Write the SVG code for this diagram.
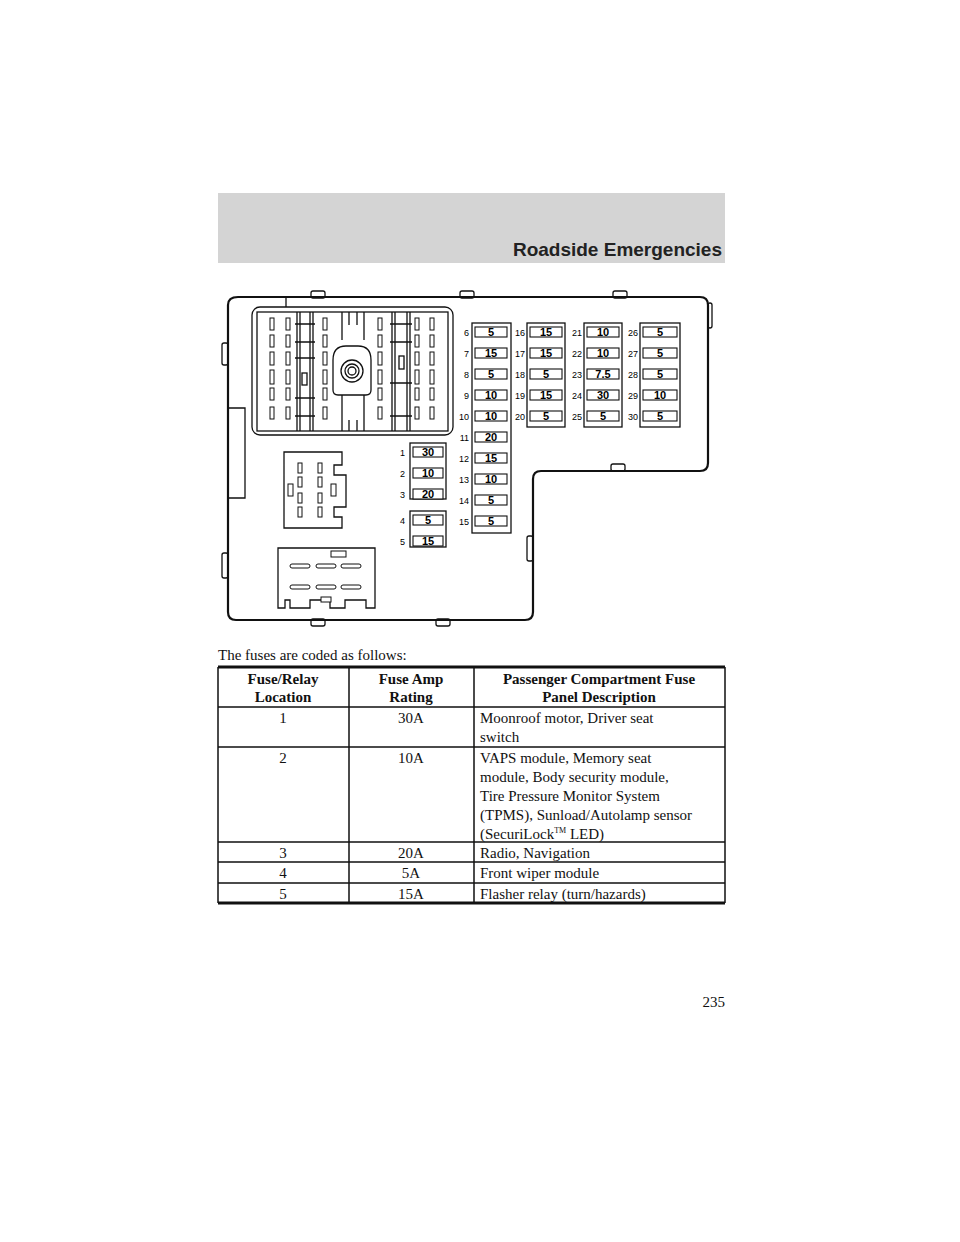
<svg xmlns="http://www.w3.org/2000/svg" width="960" height="1242" viewBox="0 0 960 1242">
<style>
.ln{fill:none;stroke:#111;stroke-width:1.3}
.thk{fill:none;stroke:#111;stroke-width:2.2}
.fw{fill:#fff;stroke:#111;stroke-width:1.1}
.fn{font-family:"Liberation Sans",Arial,sans-serif;font-size:11px;font-weight:bold;text-anchor:middle}
.fl{font-family:"Liberation Sans",Arial,sans-serif;font-size:9px;text-anchor:end}
.sr{font-family:"Liberation Serif","Times New Roman",serif;font-size:15px;fill:#111}
.b{font-weight:bold}
.c{text-anchor:middle}
.pin{fill:#fff;stroke:#111;stroke-width:1}
</style>
<rect width="960" height="1242" fill="#fff"/>
<g id="header">
<rect x="218" y="193" width="507" height="70" fill="#d4d4d4"/>
<text x="722" y="256" font-family="Liberation Sans,Arial,sans-serif" font-size="19" font-weight="bold" text-anchor="end" fill="#222">Roadside Emergencies</text>
</g>
<g id="panel">
<path class="thk" d="M238,297 H700 Q708,297 708,305 V463 Q708,471 700,471 H541 Q533,471 533,479 V612 Q533,620 525,620 H236 Q228,620 228,612 V305 Q228,297 238,297 Z"/>
<path class="ln" d="M286,297 V307 M228,408 H245 V498 H228"/>
<g class="ln"><rect x="311" y="291" width="14" height="7" rx="2"/><rect x="460" y="291" width="14" height="7" rx="2"/><rect x="613" y="291" width="14" height="7" rx="2"/><rect x="611" y="464" width="14" height="7" rx="2"/><rect x="311" y="619" width="14" height="7" rx="2"/><rect x="436" y="619" width="14" height="7" rx="2"/><rect x="222" y="343" width="6" height="22" rx="2"/><rect x="222" y="553" width="6" height="25" rx="2"/><rect x="527" y="536" width="6" height="25" rx="2"/><rect x="708" y="303" width="4" height="25" rx="2"/></g>
<rect class="ln" x="252" y="307" width="201" height="128" rx="8"/>
<rect class="ln" x="257" y="312" width="191" height="119"/>
<g class="ln"><path d="M297,312V431M300,312V431M310,312V431M313,312V431M392,312V431M395,312V431M407,312V431M410,312V431"/><path d="M295,324H315M295,342H315M295,358H315M295,398H315M295,416H315M390,324H412M390,342H412M390,383H412M390,416H412"/><path d="M342,312V340M364,312V340M342,395V431M364,395V431M349,312V325M357,312V325M349,420V431M357,420V431"/><path d="M333,360 Q333,346 346,346 H358 Q371,346 371,360 V390 Q371,395 366,395 H338 Q333,395 333,390 Z"/><circle cx="352" cy="371" r="11"/><circle cx="352" cy="371" r="7"/><circle cx="352" cy="371" r="4"/><rect x="302" y="373" width="5" height="12"/><rect x="399" y="356" width="5" height="13"/></g>
<g id="slots" class="pin">
<rect x="270" y="318" width="4" height="12"/><rect x="286" y="318" width="4" height="12"/><rect x="323" y="318" width="4" height="12"/><rect x="378" y="318" width="4" height="12"/><rect x="415" y="318" width="4" height="12"/><rect x="430" y="318" width="4" height="12"/>
<rect x="270" y="335" width="4" height="12"/><rect x="286" y="335" width="4" height="12"/><rect x="323" y="335" width="4" height="12"/><rect x="378" y="335" width="4" height="12"/><rect x="415" y="335" width="4" height="12"/><rect x="430" y="335" width="4" height="12"/>
<rect x="270" y="352" width="4" height="13"/><rect x="286" y="352" width="4" height="13"/><rect x="323" y="352" width="4" height="13"/><rect x="378" y="352" width="4" height="13"/><rect x="415" y="352" width="4" height="13"/><rect x="430" y="352" width="4" height="13"/>
<rect x="270" y="370" width="4" height="14"/><rect x="286" y="370" width="4" height="14"/><rect x="323" y="370" width="4" height="14"/><rect x="378" y="370" width="4" height="14"/><rect x="415" y="370" width="4" height="14"/><rect x="430" y="370" width="4" height="14"/>
<rect x="270" y="388" width="4" height="12"/><rect x="286" y="388" width="4" height="12"/><rect x="323" y="388" width="4" height="12"/><rect x="378" y="388" width="4" height="12"/><rect x="415" y="388" width="4" height="12"/><rect x="430" y="388" width="4" height="12"/>
<rect x="270" y="407" width="4" height="12"/><rect x="286" y="407" width="4" height="12"/><rect x="323" y="407" width="4" height="12"/><rect x="378" y="407" width="4" height="12"/><rect x="415" y="407" width="4" height="12"/><rect x="430" y="407" width="4" height="12"/>
</g>
<path class="ln" d="M284,452 H342 V465 H334 V475 H346 V507 H334 V517 H342 V528 H284 Z"/>
<g class="pin"><rect x="298" y="463" width="4" height="10"/><rect x="318" y="463" width="4" height="10"/><rect x="298" y="477" width="4" height="10"/><rect x="318" y="477" width="4" height="10"/><rect x="298" y="493" width="4" height="10"/><rect x="318" y="493" width="4" height="10"/><rect x="298" y="507" width="4" height="10"/><rect x="318" y="507" width="4" height="10"/><rect x="288" y="484" width="5" height="12"/><rect x="331" y="484" width="5" height="12"/></g>
<path class="ln" d="M278,548 H375 V608 H366 V600 H345 V608 H330 V600 H310 V608 H290 V600 H285 V608 H278 Z"/>
<g class="pin"><rect x="331" y="551" width="15" height="6"/><rect x="290" y="564" width="20" height="4" rx="2"/><rect x="316" y="564" width="20" height="4" rx="2"/><rect x="341" y="564" width="20" height="4" rx="2"/><rect x="290" y="585" width="20" height="4" rx="2"/><rect x="316" y="585" width="20" height="4" rx="2"/><rect x="341" y="585" width="20" height="4" rx="2"/><rect x="321" y="597" width="10" height="5"/></g>
</g>
<g id="fuses">
<rect class="ln" x="410" y="443" width="36" height="56"/><rect class="ln" x="410" y="511" width="36" height="36"/>
<rect class="ln" x="472" y="323" width="39" height="210"/>
<rect class="ln" x="527" y="323" width="38" height="104"/>
<rect class="ln" x="584" y="323" width="38" height="104"/>
<rect class="ln" x="640" y="323" width="40" height="104"/>
<g class="fw">
<rect x="413" y="447" width="30" height="10"/><rect x="413" y="468" width="30" height="10"/><rect x="413" y="489" width="30" height="10"/><rect x="413" y="515" width="30" height="10"/><rect x="413" y="536" width="30" height="10"/>
<rect x="475" y="327" width="32" height="10"/><rect x="475" y="348" width="32" height="10"/><rect x="475" y="369" width="32" height="10"/><rect x="475" y="390" width="32" height="10"/><rect x="475" y="411" width="32" height="10"/><rect x="475" y="432" width="32" height="10"/><rect x="475" y="453" width="32" height="10"/><rect x="475" y="474" width="32" height="10"/><rect x="475" y="495" width="32" height="10"/><rect x="475" y="516" width="32" height="10"/>
<rect x="530" y="327" width="32" height="10"/><rect x="530" y="348" width="32" height="10"/><rect x="530" y="369" width="32" height="10"/><rect x="530" y="390" width="32" height="10"/><rect x="530" y="411" width="32" height="10"/>
<rect x="587" y="327" width="32" height="10"/><rect x="587" y="348" width="32" height="10"/><rect x="587" y="369" width="32" height="10"/><rect x="587" y="390" width="32" height="10"/><rect x="587" y="411" width="32" height="10"/>
<rect x="643" y="327" width="34" height="10"/><rect x="643" y="348" width="34" height="10"/><rect x="643" y="369" width="34" height="10"/><rect x="643" y="390" width="34" height="10"/><rect x="643" y="411" width="34" height="10"/>
</g>
<g class="fn">
<text x="428" y="456">30</text><text x="428" y="477">10</text><text x="428" y="498">20</text><text x="428" y="524">5</text><text x="428" y="545">15</text>
<text x="491" y="336">5</text><text x="491" y="357">15</text><text x="491" y="378">5</text><text x="491" y="399">10</text><text x="491" y="420">10</text><text x="491" y="441">20</text><text x="491" y="462">15</text><text x="491" y="483">10</text><text x="491" y="504">5</text><text x="491" y="525">5</text>
<text x="546" y="336">15</text><text x="546" y="357">15</text><text x="546" y="378">5</text><text x="546" y="399">15</text><text x="546" y="420">5</text>
<text x="603" y="336">10</text><text x="603" y="357">10</text><text x="603" y="378">7.5</text><text x="603" y="399">30</text><text x="603" y="420">5</text>
<text x="660" y="336">5</text><text x="660" y="357">5</text><text x="660" y="378">5</text><text x="660" y="399">10</text><text x="660" y="420">5</text>
</g>
<g class="fl">
<text x="405" y="456">1</text><text x="405" y="477">2</text><text x="405" y="498">3</text><text x="405" y="524">4</text><text x="405" y="545">5</text>
<text x="469" y="336">6</text><text x="469" y="357">7</text><text x="469" y="378">8</text><text x="469" y="399">9</text><text x="469" y="420">10</text><text x="469" y="441">11</text><text x="469" y="462">12</text><text x="469" y="483">13</text><text x="469" y="504">14</text><text x="469" y="525">15</text>
<text x="525" y="336">16</text><text x="525" y="357">17</text><text x="525" y="378">18</text><text x="525" y="399">19</text><text x="525" y="420">20</text>
<text x="582" y="336">21</text><text x="582" y="357">22</text><text x="582" y="378">23</text><text x="582" y="399">24</text><text x="582" y="420">25</text>
<text x="638" y="336">26</text><text x="638" y="357">27</text><text x="638" y="378">28</text><text x="638" y="399">29</text><text x="638" y="420">30</text>
</g>
</g>
<text class="sr" x="218" y="660">The fuses are coded as follows:</text>
<g id="table">
<path fill="none" stroke="#111" stroke-width="1.5" d="M218,707H725M218,747H725M218,842H725M218,862H725M218,883H725M218,667V903M349,667V903M474,667V903M725,667V903"/>
<path stroke="#111" stroke-width="3" d="M218,667H725M218,903H725"/>
<g class="sr b c"><text x="283" y="684">Fuse/Relay</text><text x="283" y="702">Location</text><text x="411" y="684">Fuse Amp</text><text x="411" y="702">Rating</text><text x="599" y="684">Passenger Compartment Fuse</text><text x="599" y="702">Panel Description</text></g>
<g class="sr c"><text x="283" y="723">1</text><text x="411" y="723">30A</text><text x="283" y="763">2</text><text x="411" y="763">10A</text><text x="283" y="858">3</text><text x="411" y="858">20A</text><text x="283" y="878">4</text><text x="411" y="878">5A</text><text x="283" y="899">5</text><text x="411" y="899">15A</text></g>
<g class="sr"><text x="480" y="723">Moonroof motor, Driver seat</text><text x="480" y="742">switch</text><text x="480" y="763">VAPS module, Memory seat</text><text x="480" y="782">module, Body security module,</text><text x="480" y="801">Tire Pressure Monitor System</text><text x="480" y="820">(TPMS), Sunload/Autolamp sensor</text><text x="480" y="839">(SecuriLock<tspan font-size="8" dy="-6">TM</tspan><tspan dy="6"> LED)</tspan></text><text x="480" y="858">Radio, Navigation</text><text x="480" y="878">Front wiper module</text><text x="480" y="899">Flasher relay (turn/hazards)</text></g>
</g>
<text class="sr" x="725" y="1007" text-anchor="end">235</text>
</svg>
